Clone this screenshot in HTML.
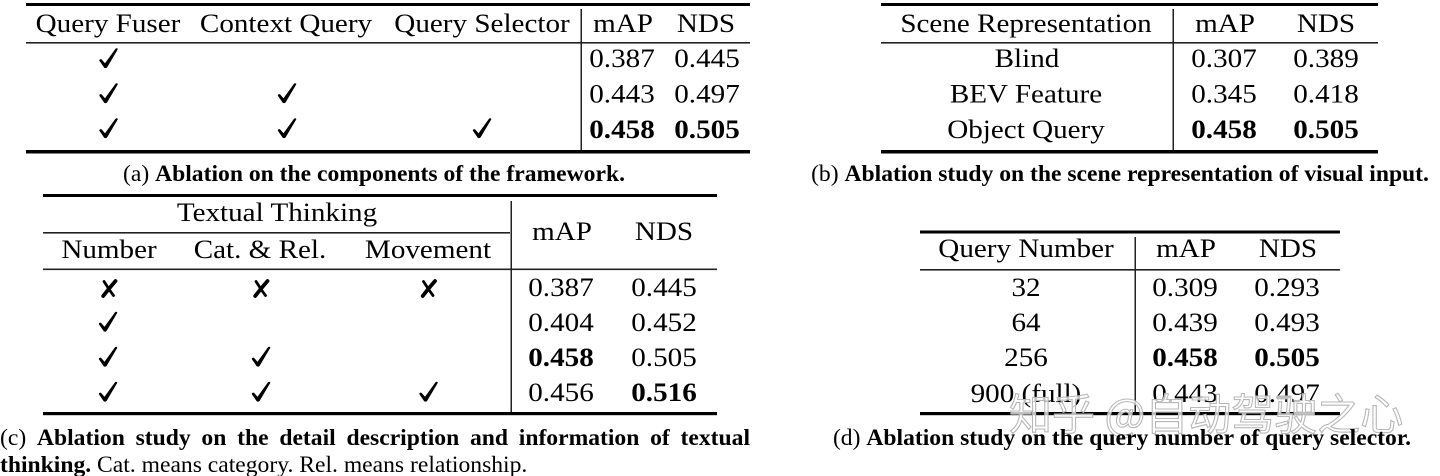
<!DOCTYPE html>
<html>
<head>
<meta charset="utf-8">
<style>
  html, body { margin:0; padding:0; background:#fff; }
  #wrap { position:relative; width:1440px; height:476px; overflow:hidden; background:#fff; }
  svg { position:absolute; left:0; top:0; }
  .t { font-family:"Liberation Serif", serif; font-size:26px; fill:#000; }
  .b { font-weight:bold; }
  .cap { font-family:"Liberation Serif", serif; font-size:23.6px; fill:#000; }
  .capdiv { position:absolute; left:0; width:750px; font-family:"Liberation Serif", serif; font-size:23.6px; line-height:23.6px; color:#000; }
</style>
</head>
<body>
<div id="wrap">
<svg width="1440" height="476" viewBox="0 0 1440 476" xmlns="http://www.w3.org/2000/svg">
  <defs>
    <path id="chk" d="M5.2,19.8 L0.3,12.6 C0.1,11.6 1.6,10.6 2.6,11.4 L6.0,15.2 L16.6,0.6 C17.4,-0.2 19.2,0.4 18.7,1.5 L8.2,19.2 C7.6,20.2 5.9,20.4 5.2,19.8 Z" fill="#000"/>
    <g id="crs">
      <path d="M14.5,1 C11,5 6,11 2.2,16" stroke="#000" stroke-width="3.8" fill="none" stroke-linecap="round"/>
      <path d="M3,1.5 C6,6 9,11 12.5,15.5" stroke="#000" stroke-width="2.8" fill="none" stroke-linecap="round"/>
    </g>
  </defs>

  <!-- ================= Table (a) ================= -->
  <rect x="26" y="3" width="724" height="3" fill="#000"/>
  <rect x="26" y="42" width="724" height="1.6" fill="#222"/>
  <rect x="26" y="150" width="724" height="3.5" fill="#000"/>
  <rect x="580.5" y="9" width="1.5" height="141" fill="#222"/>

  <g transform="translate(108,32) scale(1.12,1)"><text class="t" text-anchor="middle">Query Fuser</text></g>
  <g transform="translate(286,32) scale(1.12,1)"><text class="t" text-anchor="middle">Context Query</text></g>
  <g transform="translate(482,32) scale(1.12,1)"><text class="t" text-anchor="middle">Query Selector</text></g>
  <g transform="translate(623,32) scale(1.12,1)"><text class="t" text-anchor="middle">mAP</text></g>
  <g transform="translate(706,32) scale(1.12,1)"><text class="t" text-anchor="middle">NDS</text></g>

  <use href="#chk" x="99" y="48"/>
  <use href="#chk" x="99" y="83"/>
  <use href="#chk" x="277.5" y="83"/>
  <use href="#chk" x="99" y="118"/>
  <use href="#chk" x="277.5" y="118"/>
  <use href="#chk" x="472.5" y="118"/>

  <g transform="translate(622,67) scale(1.12,1)"><text class="t" text-anchor="middle">0.387</text></g>
  <g transform="translate(707,67) scale(1.12,1)"><text class="t" text-anchor="middle">0.445</text></g>
  <g transform="translate(622,102.5) scale(1.12,1)"><text class="t" text-anchor="middle">0.443</text></g>
  <g transform="translate(707,102.5) scale(1.12,1)"><text class="t" text-anchor="middle">0.497</text></g>
  <g transform="translate(622,138) scale(1.12,1)"><text class="t b" text-anchor="middle">0.458</text></g>
  <g transform="translate(707,138) scale(1.12,1)"><text class="t b" text-anchor="middle">0.505</text></g>

  <text class="cap" x="374" y="181" text-anchor="middle">(a) <tspan font-weight="bold">Ablation on the components of the framework.</tspan></text>

  <!-- ================= Table (b) ================= -->
  <rect x="881" y="3" width="497" height="3" fill="#000"/>
  <rect x="881" y="42" width="497" height="1.6" fill="#222"/>
  <rect x="881" y="150" width="497" height="3.5" fill="#000"/>
  <rect x="1172.5" y="9" width="1.5" height="141" fill="#222"/>

  <g transform="translate(1026,32) scale(1.12,1)"><text class="t" text-anchor="middle">Scene Representation</text></g>
  <g transform="translate(1225,32) scale(1.12,1)"><text class="t" text-anchor="middle">mAP</text></g>
  <g transform="translate(1326,32) scale(1.12,1)"><text class="t" text-anchor="middle">NDS</text></g>

  <g transform="translate(1027,67) scale(1.12,1)"><text class="t" text-anchor="middle">Blind</text></g>
  <g transform="translate(1026,102.5) scale(1.12,1)"><text class="t" text-anchor="middle">BEV Feature</text></g>
  <g transform="translate(1026,138) scale(1.12,1)"><text class="t" text-anchor="middle">Object Query</text></g>

  <g transform="translate(1224,67) scale(1.12,1)"><text class="t" text-anchor="middle">0.307</text></g>
  <g transform="translate(1326,67) scale(1.12,1)"><text class="t" text-anchor="middle">0.389</text></g>
  <g transform="translate(1224,102.5) scale(1.12,1)"><text class="t" text-anchor="middle">0.345</text></g>
  <g transform="translate(1326,102.5) scale(1.12,1)"><text class="t" text-anchor="middle">0.418</text></g>
  <g transform="translate(1224,138) scale(1.12,1)"><text class="t b" text-anchor="middle">0.458</text></g>
  <g transform="translate(1326,138) scale(1.12,1)"><text class="t b" text-anchor="middle">0.505</text></g>

  <text class="cap" x="1120" y="181" text-anchor="middle">(b) <tspan font-weight="bold">Ablation study on the scene representation of visual input.</tspan></text>

  <!-- ================= Table (c) ================= -->
  <rect x="43" y="194" width="674" height="3" fill="#000"/>
  <rect x="43" y="232" width="467" height="1.6" fill="#222"/>
  <rect x="43" y="268.5" width="674" height="1.6" fill="#222"/>
  <rect x="43" y="412" width="674" height="3.2" fill="#000"/>
  <rect x="510.5" y="201" width="1.5" height="211" fill="#222"/>

  <g transform="translate(277,221) scale(1.12,1)"><text class="t" text-anchor="middle">Textual Thinking</text></g>
  <g transform="translate(109,258) scale(1.12,1)"><text class="t" text-anchor="middle">Number</text></g>
  <g transform="translate(260,258) scale(1.12,1)"><text class="t" text-anchor="middle">Cat. &amp; Rel.</text></g>
  <g transform="translate(428,258) scale(1.12,1)"><text class="t" text-anchor="middle">Movement</text></g>
  <g transform="translate(562,240) scale(1.12,1)"><text class="t" text-anchor="middle">mAP</text></g>
  <g transform="translate(664,240) scale(1.12,1)"><text class="t" text-anchor="middle">NDS</text></g>

  <use href="#crs" x="101" y="280"/>
  <use href="#crs" x="253" y="280"/>
  <use href="#crs" x="420.5" y="280"/>
  <use href="#chk" x="98.5" y="311.5"/>
  <use href="#chk" x="98.5" y="346.5"/>
  <use href="#chk" x="251.5" y="346.5"/>
  <use href="#chk" x="98.5" y="381.5"/>
  <use href="#chk" x="251.5" y="381.5"/>
  <use href="#chk" x="419" y="381.5"/>

  <g transform="translate(561,296) scale(1.12,1)"><text class="t" text-anchor="middle">0.387</text></g>
  <g transform="translate(664,296) scale(1.12,1)"><text class="t" text-anchor="middle">0.445</text></g>
  <g transform="translate(561,331) scale(1.12,1)"><text class="t" text-anchor="middle">0.404</text></g>
  <g transform="translate(664,331) scale(1.12,1)"><text class="t" text-anchor="middle">0.452</text></g>
  <g transform="translate(561,366) scale(1.12,1)"><text class="t b" text-anchor="middle">0.458</text></g>
  <g transform="translate(664,366) scale(1.12,1)"><text class="t" text-anchor="middle">0.505</text></g>
  <g transform="translate(561,401) scale(1.12,1)"><text class="t" text-anchor="middle">0.456</text></g>
  <g transform="translate(664,401) scale(1.12,1)"><text class="t b" text-anchor="middle">0.516</text></g>

  <!-- ================= Table (d) ================= -->
  <rect x="920" y="230.5" width="420" height="3" fill="#000"/>
  <rect x="920" y="269" width="420" height="1.6" fill="#222"/>
  <rect x="920" y="412" width="420" height="3.2" fill="#000"/>
  <rect x="1134.5" y="237" width="1.5" height="175" fill="#222"/>

  <g transform="translate(1026,257) scale(1.12,1)"><text class="t" text-anchor="middle">Query Number</text></g>
  <g transform="translate(1186,257) scale(1.12,1)"><text class="t" text-anchor="middle">mAP</text></g>
  <g transform="translate(1288,257) scale(1.12,1)"><text class="t" text-anchor="middle">NDS</text></g>

  <g transform="translate(1026,296) scale(1.12,1)"><text class="t" text-anchor="middle">32</text></g>
  <g transform="translate(1026,331) scale(1.12,1)"><text class="t" text-anchor="middle">64</text></g>
  <g transform="translate(1026,366) scale(1.12,1)"><text class="t" text-anchor="middle">256</text></g>
  <g transform="translate(1026,402) scale(1.12,1)"><text class="t" text-anchor="middle">900 (full)</text></g>

  <g transform="translate(1185,296) scale(1.12,1)"><text class="t" text-anchor="middle">0.309</text></g>
  <g transform="translate(1287,296) scale(1.12,1)"><text class="t" text-anchor="middle">0.293</text></g>
  <g transform="translate(1185,331) scale(1.12,1)"><text class="t" text-anchor="middle">0.439</text></g>
  <g transform="translate(1287,331) scale(1.12,1)"><text class="t" text-anchor="middle">0.493</text></g>
  <g transform="translate(1185,366) scale(1.12,1)"><text class="t b" text-anchor="middle">0.458</text></g>
  <g transform="translate(1287,366) scale(1.12,1)"><text class="t b" text-anchor="middle">0.505</text></g>
  <g transform="translate(1185,402) scale(1.12,1)"><text class="t" text-anchor="middle">0.443</text></g>
  <g transform="translate(1287,402) scale(1.12,1)"><text class="t" text-anchor="middle">0.497</text></g>

  <!-- watermark -->
  <text x="1009" y="430" font-family="'Noto Sans CJK SC', 'WenQuanYi Zen Hei', sans-serif" font-size="43" fill="#ffffff" fill-opacity="0.75" stroke="#b8b8b8" stroke-width="1.1">知乎 @自动驾驶之心</text>

  <text class="cap" x="1122" y="445" text-anchor="middle">(d) <tspan font-weight="bold">Ablation study on the query number of query selector.</tspan></text>
</svg>

<div class="capdiv" style="top:427.2px; text-align:justify; text-align-last:justify;">(c) <b>Ablation study on the detail description and information of textual</b></div>
<div class="capdiv" style="top:454.2px; width:780px;"><b>thinking.</b> Cat. means category. Rel. means relationship.</div>
</div>
</body>
</html>
